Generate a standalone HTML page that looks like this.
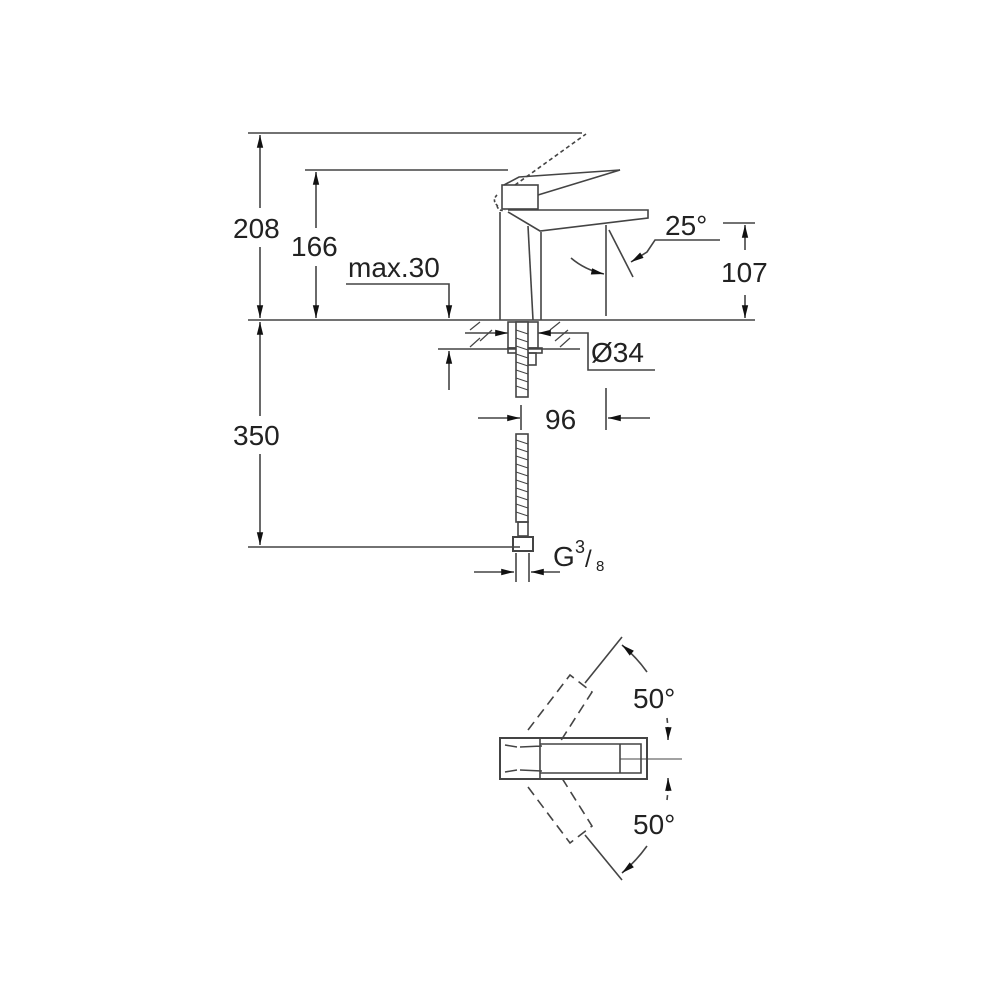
<!DOCTYPE html>
<html><head><meta charset="utf-8"><style>html,body{margin:0;padding:0;background:#fff}svg{display:block}text{font-family:"Liberation Sans",Arial,sans-serif;fill:#222;font-size:28px}</style></head><body>
<svg width="1000" height="1000" viewBox="0 0 1000 1000" xmlns="http://www.w3.org/2000/svg">
<defs>
<marker id="a" viewBox="0 0 10 10" refX="10" refY="5" markerWidth="10" markerHeight="8" orient="auto-start-reverse" markerUnits="userSpaceOnUse"><path d="M0,1 L10,5 L0,9 z" fill="#111"/></marker>
<marker id="b" viewBox="0 0 16 10" refX="16" refY="5" markerWidth="18" markerHeight="8" orient="auto-start-reverse" markerUnits="userSpaceOnUse"><path d="M0,1 L16,5 L0,9 z" fill="#111"/></marker>
</defs>
<g stroke="#444" stroke-width="1.6" fill="none">
<line x1="248" y1="133" x2="582" y2="133"/>
<line x1="305" y1="170" x2="508" y2="170"/>
<line x1="248" y1="320" x2="755" y2="320"/>
<line x1="248" y1="547" x2="520" y2="547"/>
<line x1="260" y1="135" x2="260" y2="208" marker-start="url(#b)"/>
<line x1="260" y1="247" x2="260" y2="318" marker-end="url(#b)"/>
<line x1="316" y1="172" x2="316" y2="228" marker-start="url(#b)"/>
<line x1="316" y1="266" x2="316" y2="318" marker-end="url(#b)"/>
<line x1="260" y1="322" x2="260" y2="416" marker-start="url(#b)"/>
<line x1="260" y1="454" x2="260" y2="545" marker-end="url(#b)"/>
<polyline points="346,284 449,284 449,318" marker-end="url(#b)"/>
<line x1="438" y1="349" x2="580" y2="349"/>
<line x1="449" y1="390" x2="449" y2="351" marker-end="url(#b)"/>
<line x1="515" y1="185" x2="586" y2="134" stroke-dasharray="4,3"/>
<line x1="500" y1="212" x2="500" y2="320"/>
<line x1="541" y1="232" x2="541" y2="320"/>
<line x1="528" y1="226" x2="533" y2="320"/>
<rect x="502" y="185" width="36" height="24"/>
<polyline points="504,185 519,177 620,170 538,195"/>
<polyline points="508,210 648,210 648,218 540,231 508,212"/>
<path d="M497,195 q-6,6 2,12 M497,206 q2,6 8,4" stroke-dasharray="3,2"/>
<line x1="606" y1="225" x2="606" y2="316"/>
<line x1="609" y1="230" x2="633" y2="277"/>
<path d="M571,258 Q585,270 604,274" marker-end="url(#b)"/>
<polyline points="720,240 655,240 647,252 631,262" marker-end="url(#b)"/>
<line x1="723" y1="223" x2="755" y2="223"/>
<line x1="745" y1="225" x2="745" y2="250" marker-start="url(#b)"/>
<line x1="745" y1="295" x2="745" y2="318" marker-end="url(#b)"/>
<g stroke-width="1.2"><line x1="470" y1="330" x2="480" y2="322"/><line x1="480" y1="341" x2="492" y2="330"/><line x1="470" y1="347" x2="480" y2="338"/><line x1="550" y1="330" x2="560" y2="322"/><line x1="555" y1="341" x2="568" y2="330"/><line x1="560" y1="347" x2="570" y2="338"/></g>
<line x1="465" y1="333" x2="508" y2="333" marker-end="url(#b)"/>
<line x1="570" y1="333" x2="538" y2="333" marker-end="url(#b)"/>
<polyline points="570,333 588,333 588,370 655,370"/>
<rect x="508" y="322" width="30" height="26"/>
<rect x="508" y="348" width="34" height="5"/>
<rect x="528" y="353" width="8" height="12"/>
<rect x="516" y="322" width="12" height="75" fill="#fff"/>
<path d="M516,330 l12,4 M516,338 l12,4 M516,346 l12,4 M516,354 l12,4 M516,362 l12,4 M516,370 l12,4 M516,378 l12,4 M516,386 l12,4" stroke-width="1"/>
<rect x="516" y="434" width="12" height="88"/>
<path d="M516,440 l12,4 M516,448 l12,4 M516,456 l12,4 M516,464 l12,4 M516,472 l12,4 M516,480 l12,4 M516,488 l12,4 M516,496 l12,4 M516,504 l12,4 M516,512 l12,4" stroke-width="1"/>
<rect x="518" y="522" width="10" height="14"/>
<rect x="513" y="537" width="20" height="14" stroke-width="2"/>
<line x1="478" y1="418" x2="520" y2="418" marker-end="url(#b)"/>
<line x1="521" y1="405" x2="521" y2="430"/>
<line x1="606" y1="388" x2="606" y2="430"/>
<line x1="650" y1="418" x2="608" y2="418" marker-end="url(#b)"/>
<line x1="516" y1="553" x2="516" y2="582"/>
<line x1="529" y1="553" x2="529" y2="582"/>
<line x1="474" y1="572" x2="514" y2="572" marker-end="url(#b)"/>
<line x1="560" y1="572" x2="531" y2="572" marker-end="url(#b)"/>
<rect x="500" y="738" width="147" height="41" stroke-width="2"/>
<polyline points="540,744 641,744 641,773 540,773"/>
<line x1="620" y1="744" x2="620" y2="773"/>
<path d="M500,738 l40,0 0,41 -40,0 M505,745 l12,2 M505,772 l12,-2 M520,747 l22,-1 M520,770 l22,1"/>
<line x1="620" y1="759" x2="682" y2="759" stroke-width="1"/>
<g stroke-dasharray="10,6">
<polyline points="528,730 570,675 592,692 560,742"/>
<polyline points="528,787 570,843 592,826 560,775"/>
</g>
<line x1="585" y1="683" x2="622" y2="637"/>
<line x1="585" y1="835" x2="622" y2="880"/>
<path d="M647,672 A148,148 0 0 0 622,645" marker-end="url(#b)"/>
<path d="M667,718 A148,148 0 0 1 668,740" stroke-dasharray="5,4" marker-end="url(#b)"/>
<path d="M667,800 A148,148 0 0 0 668,778" stroke-dasharray="5,4" marker-end="url(#b)"/>
<path d="M647,846 A148,148 0 0 1 622,873" marker-end="url(#b)"/>
</g>
<text x="233" y="238">208</text>
<text x="291" y="256">166</text>
<text x="348" y="277">max.30</text>
<text x="665" y="235">25°</text>
<text x="721" y="282">107</text>
<text x="591" y="362">Ø34</text>
<text x="545" y="429">96</text>
<text x="233" y="445">350</text>
<text x="553" y="566">G</text>
<text x="575" y="553" style="font-size:18px">3</text>
<text x="585" y="567" style="font-size:24px">/</text>
<text x="596" y="571" style="font-size:15px">8</text>
<text x="633" y="708">50°</text>
<text x="633" y="834">50°</text>
</svg>
</body></html>
